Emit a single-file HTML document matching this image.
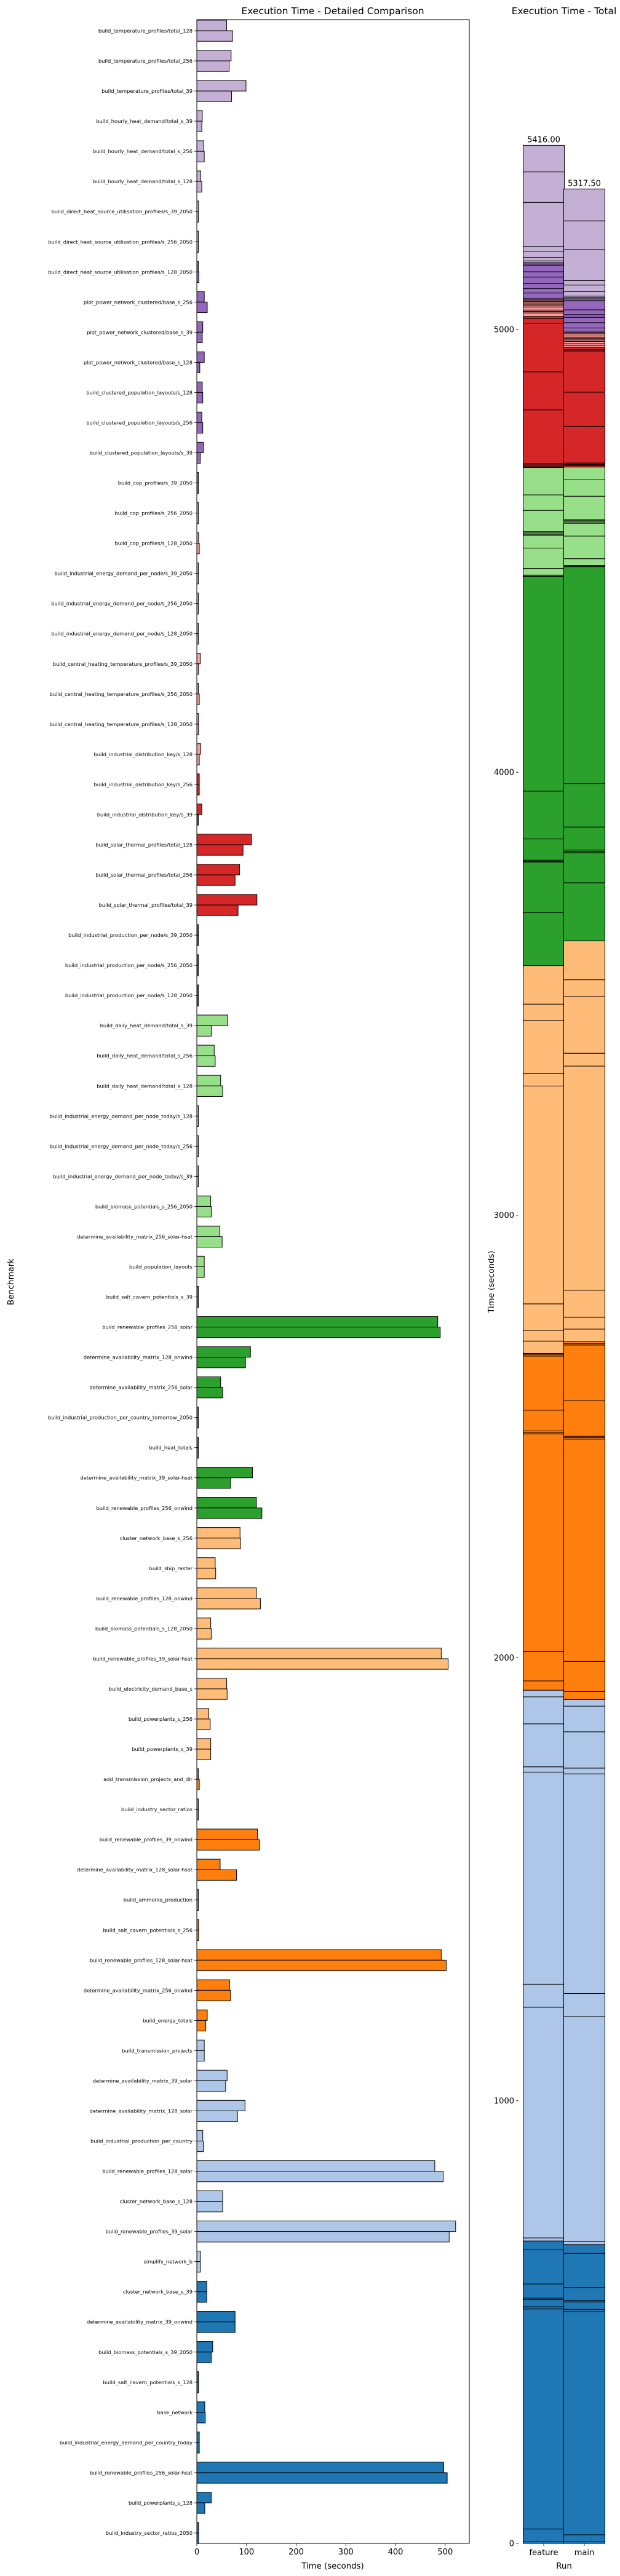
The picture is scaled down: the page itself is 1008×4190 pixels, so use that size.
<!DOCTYPE html>
<html><head><meta charset="utf-8"><title>Execution Time</title>
<style>
html,body{margin:0;padding:0;background:#fff;}
svg{display:block;font-family:"DejaVu Sans","Liberation Sans",sans-serif;}
</style></head>
<body>
<svg id="chart" xmlns="http://www.w3.org/2000/svg" width="1008" height="4190" viewBox="0 0 1008 4190">
<rect x="0" y="0" width="1008" height="4190" fill="#fff"/>
<text x="541" y="23" font-size="15.5" text-anchor="middle">Execution Time - Detailed Comparison</text>
<text x="917" y="23" font-size="15.5" text-anchor="middle">Execution Time - Total</text>
<g id="left"></g>
<g id="right"></g>
</svg>
<script>
// categories listed from top to bottom
const categories = [
"build_temperature_profiles/total_128","build_temperature_profiles/total_256","build_temperature_profiles/total_39",
"build_hourly_heat_demand/total_s_39","build_hourly_heat_demand/total_s_256","build_hourly_heat_demand/total_s_128",
"build_direct_heat_source_utilisation_profiles/s_39_2050","build_direct_heat_source_utilisation_profiles/s_256_2050","build_direct_heat_source_utilisation_profiles/s_128_2050",
"plot_power_network_clustered/base_s_256","plot_power_network_clustered/base_s_39","plot_power_network_clustered/base_s_128",
"build_clustered_population_layouts/s_128","build_clustered_population_layouts/s_256","build_clustered_population_layouts/s_39",
"build_cop_profiles/s_39_2050","build_cop_profiles/s_256_2050","build_cop_profiles/s_128_2050",
"build_industrial_energy_demand_per_node/s_39_2050","build_industrial_energy_demand_per_node/s_256_2050","build_industrial_energy_demand_per_node/s_128_2050",
"build_central_heating_temperature_profiles/s_39_2050","build_central_heating_temperature_profiles/s_256_2050","build_central_heating_temperature_profiles/s_128_2050",
"build_industrial_distribution_key/s_128","build_industrial_distribution_key/s_256","build_industrial_distribution_key/s_39",
"build_solar_thermal_profiles/total_128","build_solar_thermal_profiles/total_256","build_solar_thermal_profiles/total_39",
"build_industrial_production_per_node/s_39_2050","build_industrial_production_per_node/s_256_2050","build_industrial_production_per_node/s_128_2050",
"build_daily_heat_demand/total_s_39","build_daily_heat_demand/total_s_256","build_daily_heat_demand/total_s_128",
"build_industrial_energy_demand_per_node_today/s_128","build_industrial_energy_demand_per_node_today/s_256","build_industrial_energy_demand_per_node_today/s_39",
"build_biomass_potentials_s_256_2050","determine_availability_matrix_256_solar-hsat","build_population_layouts","build_salt_cavern_potentials_s_39",
"build_renewable_profiles_256_solar","determine_availability_matrix_128_onwind","determine_availability_matrix_256_solar",
"build_industrial_production_per_country_tomorrow_2050","build_heat_totals","determine_availability_matrix_39_solar-hsat",
"build_renewable_profiles_256_onwind","cluster_network_base_s_256","build_ship_raster","build_renewable_profiles_128_onwind",
"build_biomass_potentials_s_128_2050","build_renewable_profiles_39_solar-hsat","build_electricity_demand_base_s",
"build_powerplants_s_256","build_powerplants_s_39","add_transmission_projects_and_dlr","build_industry_sector_ratios",
"build_renewable_profiles_39_onwind","determine_availability_matrix_128_solar-hsat","build_ammonia_production",
"build_salt_cavern_potentials_s_256","build_renewable_profiles_128_solar-hsat","determine_availability_matrix_256_onwind",
"build_energy_totals","build_transmission_projects","determine_availability_matrix_39_solar","determine_availability_matrix_128_solar",
"build_industrial_production_per_country","build_renewable_profiles_128_solar","cluster_network_base_s_128",
"build_renewable_profiles_39_solar","simplify_network_b","cluster_network_base_s_39","determine_availability_matrix_39_onwind",
"build_biomass_potentials_s_39_2050","build_salt_cavern_potentials_s_128","base_network",
"build_industrial_energy_demand_per_country_today","build_renewable_profiles_256_solar-hsat","build_powerplants_s_128",
"build_industry_sector_ratios_2050"];
const featureTimes = [60,69,99,11,14,8,3.5,3,3,15,12,15,11,10,13,3,3,3.5,3,3,3,7,3,3.5,8,5,10,110,86,121,3,3,3,62,35,48,3,3,3,28,46,15,3,485,108,48,3,3,112,120,87,37,120,28,492,60,24,28,3,3,122,47,3,3.5,492,66,21,15,61,97,12,479,52,521,7,20,77,32,3.5,16,5,497,29,3.5];
const mainTimes = [72,65,70,10,15,10,3,3,4,21,11,6,12,12,7,3,3,5,3,3,3,3.5,5,3.5,5,5,3,93,77,83,3,3,3,29,37,52,3,3,3,29,51,15,3,490,98,52,3,3,68,131,88,38,128,29,506,61,27,28,5,3,126,80,3,3.5,502,68,18,15,58,82,13,496,52,508,7,20,77,29,3.5,17,5,504,16,3.5];
const xTicks = [0,100,200,300,400,500];
const runs = ["feature","main"];
const yTicksTotal = [0,1000,2000,3000,4000,5000];

const palette = ["#1f77b4","#aec7e8","#ff7f0e","#ffbb78","#2ca02c","#98df8a","#d62728","#ff9896","#9467bd","#c5b0d5"];
const NS = "http://www.w3.org/2000/svg";
function mk(tag, attrs, parent){ const e=document.createElementNS(NS,tag); for(const k in attrs) e.setAttribute(k,attrs[k]); parent.appendChild(e); return e; }
const N = categories.length;
function colorFor(n){ const i = N-1-n; return palette[Math.min(9, Math.floor(i*10/N))]; }

const L = {x0:320, x1:763, y0:32, y1:4137, xmax:548.5};
const xs = v => L.x0 + v/L.xmax*(L.x1-L.x0);
const step = (4120-50)/(N-1);
const yc = n => 50 + n*step;
const left = document.getElementById('left');
for(let n=0;n<N;n++){
  const col = colorFor(n);
  const f = mk('rect',{x:L.x0,y:yc(n)-0.35*step,width:Math.max(0.5,xs(featureTimes[n])-L.x0),height:0.35*step,fill:col,stroke:'#000','stroke-width':1},left);
  
  
  const m = mk('rect',{x:L.x0,y:yc(n),width:Math.max(0.5,xs(mainTimes[n])-L.x0),height:0.35*step,fill:col,stroke:'#000','stroke-width':1},left);
  
  
  mk('line',{x1:L.x0-4,x2:L.x0,y1:yc(n),y2:yc(n),stroke:'#000','stroke-width':0.8},left);
  const t = mk('text',{x:L.x0-7,y:yc(n)+3,'font-size':8.3,'text-anchor':'end'},left);
  t.textContent = categories[n];
  
  
}
const frame = mk('rect',{x:L.x0,y:L.y0,width:L.x1-L.x0,height:L.y1-L.y0,fill:'none',stroke:'#000','stroke-width':1},left);


xTicks.forEach(v=>{
  mk('line',{x1:xs(v),x2:xs(v),y1:L.y1,y2:L.y1+4,stroke:'#000','stroke-width':0.8},left);
  const t = mk('text',{x:xs(v),y:L.y1+18,'font-size':13,'text-anchor':'middle'},left);
  t.textContent = v;
  
  
});
const xl = mk('text',{x:541,y:4178,'font-size':13.3,'text-anchor':'middle'},left);
xl.textContent='Time (seconds)';


const yl = mk('text',{x:22,y:2085,'font-size':13.3,'text-anchor':'middle',transform:'rotate(-90 22 2085)'},left);
yl.textContent='Benchmark';



const R = {x0:843, base:4137, scale:0.7202, barW:67, c0:884, c1:950};
const ys = v => R.base - v*R.scale;
const right = document.getElementById('right');
[featureTimes, mainTimes].forEach((arr, r)=>{
  const cx = r===0 ? R.c0 : R.c1;
  let acc = 0;
  for(let n=N-1;n>=0;n--){
    const v = arr[n];
    const s = mk('rect',{x:cx-R.barW/2,y:ys(acc+v),width:R.barW,height:v*R.scale,fill:colorFor(n),stroke:'#000','stroke-width':1},right);
    
    
    acc += v;
  }
  const lab = mk('text',{x:cx,y:ys(acc)-5,'font-size':13,'text-anchor':'middle'},right);
  lab.textContent = acc.toFixed(2);
  
  
  mk('line',{x1:cx,x2:cx,y1:R.base,y2:R.base+4,stroke:'#000','stroke-width':0.8},right);
  const rl = mk('text',{x:cx,y:R.base+19,'font-size':13,'text-anchor':'middle'},right);
  rl.textContent = runs[r];
  
  
});
yTicksTotal.forEach(v=>{
  mk('line',{x1:R.x0-4,x2:R.x0,y1:ys(v),y2:ys(v),stroke:'#000','stroke-width':0.8},right);
  const t = mk('text',{x:R.x0-7,y:ys(v)+4.5,'font-size':13,'text-anchor':'end'},right);
  t.textContent = v;
  
  
});
const rx = mk('text',{x:917,y:4178,'font-size':13.3,'text-anchor':'middle'},right);
rx.textContent='Run';


const ry = mk('text',{x:803,y:2085,'font-size':13.3,'text-anchor':'middle',transform:'rotate(-90 803 2085)'},right);
ry.textContent='Time (seconds)';


</script>
</body></html>
